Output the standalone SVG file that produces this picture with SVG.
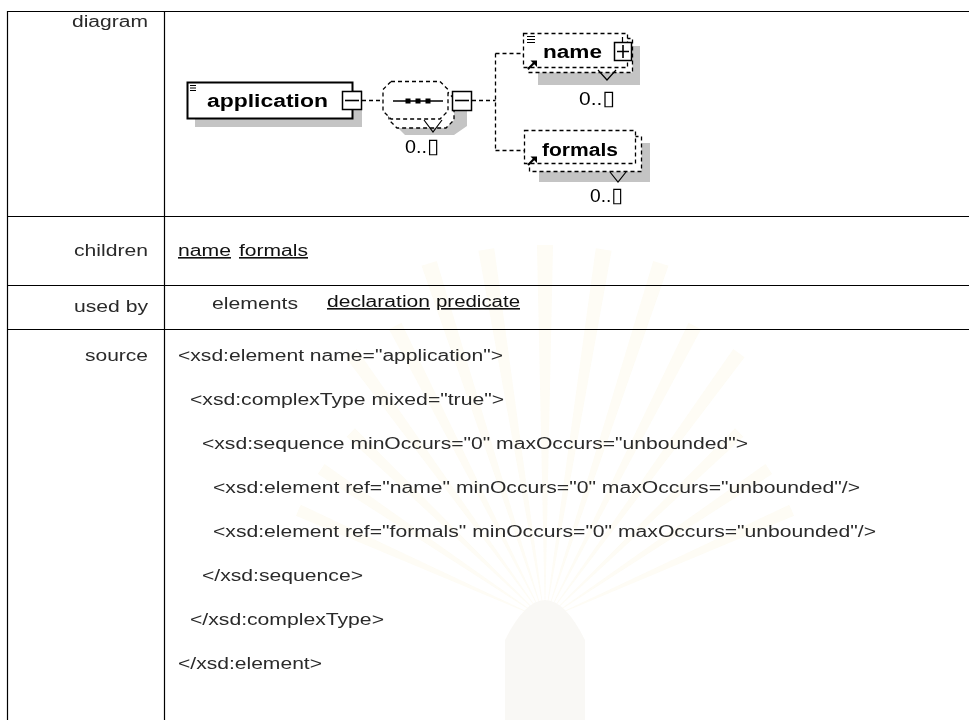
<svg xmlns="http://www.w3.org/2000/svg" xmlns:xlink="http://www.w3.org/1999/xlink" width="969" height="720" viewBox="0 0 969 720">
  <style>
    .grid { stroke: #000; stroke-width: 1.2; fill: none; }
    .lbl { font-family: "Liberation Sans", Arial, sans-serif; font-size: 16px; fill: #2a2a2a; }
    .lnk { font-family: "Liberation Sans", Arial, sans-serif; font-size: 16px; fill: #111; text-decoration: underline; }
    .src { font-family: "Liberation Sans", Arial, sans-serif; font-size: 16px; fill: #2a2a2a; }
    .nm { font-family: "Liberation Sans", Arial, sans-serif; font-size: 18px; font-weight: bold; fill: #000; }
    .occ { font-family: "Liberation Sans", "DejaVu Sans", sans-serif; font-size: 19px; fill: #000; }
    .box { font-family: "DejaVu Sans", sans-serif; font-size: 21px; }
    .dash { stroke: #000; stroke-width: 1.3; stroke-dasharray: 4 3; fill: none; }
    .dashbox { stroke: #000; stroke-width: 1.3; stroke-dasharray: 4 3; fill: #fff; }
    .solid { stroke: #000; stroke-width: 1.5; fill: #fff; }
    .bar { stroke: #000; stroke-width: 1.6; fill: none; }
    .vee { stroke: #000; stroke-width: 1.2; fill: none; }
    .shadow { fill: #c4c4c4; stroke: none; }
    .ray { fill: #faf4dc; }
  </style>
  <defs>
    <path id="ray-a" d="M545,620 L537,245 L553,245 Z"/>
    <path id="ray-b" d="M545,620 L538,290 L552,290 Z"/>
    <path id="ray-c" d="M545,620 L539,350 L551,350 Z"/>
  </defs>

  <rect width="969" height="720" fill="#fff"/>

  <!-- faint emblem watermark behind the lower rows -->
  <g id="watermark" opacity="0.3">
    <use xlink:href="#ray-a" class="ray"/>
    <use xlink:href="#ray-a" class="ray" transform="rotate(9 545 620)"/>
    <use xlink:href="#ray-a" class="ray" transform="rotate(-9 545 620)"/>
    <use xlink:href="#ray-a" class="ray" transform="rotate(18 545 620)"/>
    <use xlink:href="#ray-a" class="ray" transform="rotate(-18 545 620)"/>
    <use xlink:href="#ray-b" class="ray" transform="rotate(27 545 620)"/>
    <use xlink:href="#ray-b" class="ray" transform="rotate(-27 545 620)"/>
    <use xlink:href="#ray-b" class="ray" transform="rotate(36 545 620)"/>
    <use xlink:href="#ray-b" class="ray" transform="rotate(-36 545 620)"/>
    <use xlink:href="#ray-c" class="ray" transform="rotate(46 545 620)"/>
    <use xlink:href="#ray-c" class="ray" transform="rotate(-46 545 620)"/>
    <use xlink:href="#ray-c" class="ray" transform="rotate(56 545 620)"/>
    <use xlink:href="#ray-c" class="ray" transform="rotate(-56 545 620)"/>
    <use xlink:href="#ray-c" class="ray" transform="rotate(66 545 620)"/>
    <use xlink:href="#ray-c" class="ray" transform="rotate(-66 545 620)"/>
    <path d="M505,720 L505,640 Q545,560 585,640 L585,720 Z" fill="#ece8dc"/>
  </g>

  <!-- table grid -->
  <g id="table">
    <line class="grid" x1="7" y1="11.5" x2="969" y2="11.5"/>
    <line class="grid" x1="7.5" y1="11" x2="7.5" y2="720"/>
    <line class="grid" x1="164.5" y1="11" x2="164.5" y2="720"/>
    <line class="grid" x1="7" y1="216.5" x2="969" y2="216.5"/>
    <line class="grid" x1="7" y1="285.5" x2="969" y2="285.5"/>
    <line class="grid" x1="7" y1="329.5" x2="969" y2="329.5"/>
  </g>

  <!-- row labels -->
  <g id="labels">
    <text class="lbl" x="72" y="27" textLength="76" lengthAdjust="spacingAndGlyphs">diagram</text>
    <text class="lbl" x="74" y="256" textLength="74" lengthAdjust="spacingAndGlyphs">children</text>
    <text class="lbl" x="74" y="312" textLength="74" lengthAdjust="spacingAndGlyphs">used by</text>
    <text class="lbl" x="85" y="361" textLength="63" lengthAdjust="spacingAndGlyphs">source</text>
  </g>

  <g id="children-row">
    <text class="lnk" x="178" y="256" textLength="53" lengthAdjust="spacingAndGlyphs">name</text>
    <text class="lnk" x="239" y="256" textLength="69" lengthAdjust="spacingAndGlyphs">formals</text>
  </g>

  <g id="usedby-row">
    <text class="lbl" x="212" y="309" textLength="86" lengthAdjust="spacingAndGlyphs">elements</text>
    <text class="lnk" x="327" y="307" textLength="103" lengthAdjust="spacingAndGlyphs">declaration</text>
    <text class="lnk" x="436" y="307" textLength="84" lengthAdjust="spacingAndGlyphs">predicate</text>
  </g>

  <g id="source-row">
    <text class="src" x="178" y="361" textLength="325" lengthAdjust="spacingAndGlyphs">&lt;xsd:element name="application"&gt;</text>
    <text class="src" x="190" y="405" textLength="314" lengthAdjust="spacingAndGlyphs">&lt;xsd:complexType mixed="true"&gt;</text>
    <text class="src" x="202" y="449" textLength="546" lengthAdjust="spacingAndGlyphs">&lt;xsd:sequence minOccurs="0" maxOccurs="unbounded"&gt;</text>
    <text class="src" x="213" y="493" textLength="647" lengthAdjust="spacingAndGlyphs">&lt;xsd:element ref="name" minOccurs="0" maxOccurs="unbounded"/&gt;</text>
    <text class="src" x="213" y="537" textLength="663" lengthAdjust="spacingAndGlyphs">&lt;xsd:element ref="formals" minOccurs="0" maxOccurs="unbounded"/&gt;</text>
    <text class="src" x="202" y="581" textLength="161" lengthAdjust="spacingAndGlyphs">&lt;/xsd:sequence&gt;</text>
    <text class="src" x="190" y="625" textLength="194" lengthAdjust="spacingAndGlyphs">&lt;/xsd:complexType&gt;</text>
    <text class="src" x="178" y="669" textLength="144" lengthAdjust="spacingAndGlyphs">&lt;/xsd:element&gt;</text>
  </g>

  <!-- schema diagram: connectors -->
  <g id="connectors">
    <line class="dash" x1="362" y1="100.5" x2="383" y2="100.5"/>
    <line class="dash" x1="472" y1="100.5" x2="495.5" y2="100.5"/>
    <line class="dash" x1="495.5" y1="53.5" x2="495.5" y2="150.5"/>
    <polyline class="dash" points="495.5,53.5 523.5,53.5 523.5,57"/>
    <polyline class="dash" points="495.5,150.5 524.5,150.5 524.5,154"/>
  </g>

  <!-- element: application -->
  <g id="node-application">
    <rect class="shadow" x="195" y="90" width="167" height="37"/>
    <rect x="187.5" y="82.5" width="165" height="36" fill="#fff" stroke="#000" stroke-width="2"/>
    <path d="M190,85.5 H196 M190,88 H196 M190,90.5 H196" stroke="#000" stroke-width="1"/>
    <text class="nm" x="207" y="107" textLength="121" lengthAdjust="spacingAndGlyphs">application</text>
    <rect class="solid" x="342.5" y="91.5" width="19" height="18"/>
    <line class="bar" x1="345" y1="100.5" x2="359" y2="100.5"/>
  </g>

  <!-- compositor: sequence 0..unbounded -->
  <g id="node-sequence">
    <polygon class="shadow" points="405,97.5 454,97.5 462,105.5 467,105.5 467,126 454,135 405,135 397,127 397,105.5"/>
    <polygon class="dashbox" points="397,90.5 446,90.5 454,98.5 454,120 446,128 397,128 389,120 389,98.5"/>
    <polygon class="dashbox" points="391,81.5 440,81.5 448,89.5 448,111 440,119 391,119 383,111 383,89.5"/>
    <polyline class="vee" points="424,120 433,132 442,120"/>
    <line class="bar" x1="393" y1="101" x2="443" y2="101"/>
    <rect x="405.5" y="98.5" width="5" height="5" fill="#000"/>
    <rect x="415.5" y="98.5" width="5" height="5" fill="#000"/>
    <rect x="425.5" y="98.5" width="5" height="5" fill="#000"/>
    <rect class="solid" x="452.5" y="91.5" width="19" height="19"/>
    <line class="bar" x1="455" y1="100.5" x2="469" y2="100.5"/>
    <text class="occ" x="405" y="153" textLength="34" lengthAdjust="spacingAndGlyphs">0..<tspan class="box">▯</tspan></text>
  </g>

  <!-- element ref: name 0..unbounded -->
  <g id="node-name">
    <rect class="shadow" x="538" y="46" width="102" height="39"/>
    <rect class="dashbox" x="528.5" y="38.5" width="104" height="34"/>
    <rect class="dashbox" x="523.5" y="33.5" width="104" height="34"/>
    <polyline class="vee" points="598,70 607,80 616,70"/>
    <path d="M527,36.5 H535 M527,39.5 H535 M527,42.5 H535" stroke="#000" stroke-width="1"/>
    <path d="M528,69 L534,63" stroke="#000" stroke-width="2.2"/>
    <path d="M530.5,60.5 L537,60.5 L537,67 Z" fill="#000"/>
    <text class="nm" x="543" y="58" textLength="59" lengthAdjust="spacingAndGlyphs">name</text>
    <line x1="622.5" y1="37" x2="622.5" y2="42" stroke="#000" stroke-width="1.2"/>
    <rect class="solid" x="614.5" y="42.5" width="17" height="18"/>
    <path d="M617,51.5 H629 M623,45 V58" stroke="#000" stroke-width="1.6"/>
    <text class="occ" x="579" y="105" textLength="36" lengthAdjust="spacingAndGlyphs">0..<tspan class="box">▯</tspan></text>
  </g>

  <!-- element ref: formals 0..unbounded -->
  <g id="node-formals">
    <rect class="shadow" x="539" y="143" width="111" height="39"/>
    <rect class="dashbox" x="529.5" y="136.5" width="112" height="35"/>
    <rect class="dashbox" x="524.5" y="130.5" width="111" height="33"/>
    <polyline class="vee" points="610,172 618,182 626,172"/>
    <path d="M528,165 L534,159" stroke="#000" stroke-width="2.2"/>
    <path d="M530.5,156.5 L537,156.5 L537,163 Z" fill="#000"/>
    <text class="nm" x="542" y="156" textLength="76" lengthAdjust="spacingAndGlyphs">formals</text>
    <text class="occ" x="590" y="202" textLength="33" lengthAdjust="spacingAndGlyphs">0..<tspan class="box">▯</tspan></text>
  </g>
</svg>
